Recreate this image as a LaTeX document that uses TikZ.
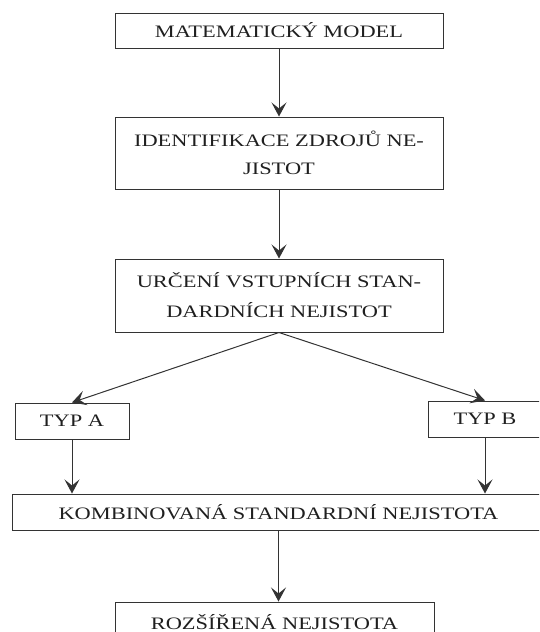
\documentclass[tikz,border=0pt]{standalone}
\usepackage{fontspec}
\setmainfont[FakeStretch=1.28]{Liberation Serif}
\usetikzlibrary{arrows.meta}
\begin{document}
\begin{tikzpicture}[x=1pt,y=-1pt,
  box/.style={draw=black!80, line width=1pt, rectangle, inner sep=0pt, align=center,
    font=\fontsize{17.5}{28}\selectfont, text=black!88},
  arr/.style={draw=black!80, line width=1pt, -{Stealth[length=14pt,width=15pt,inset=6pt]}}]
\useasboundingbox (0,0) rectangle (539,632);
\clip (0,0) rectangle (539,632);
\node[box, minimum width=328pt, minimum height=35pt] (m) at (279,30.5) {MATEMATICKÝ MODEL};
\node[box, minimum width=328pt, minimum height=72pt] (i) at (279,153) {IDENTIFIKACE ZDROJŮ NE-\\JISTOT};
\node[box, minimum width=328pt, minimum height=73pt, font=\fontsize{17.5}{30}\selectfont] (u) at (279,295.5) {URČENÍ VSTUPNÍCH STAN-\\DARDNÍCH NEJISTOT};
\node[box, minimum width=114pt, minimum height=36pt] (a) at (72,421) {TYP A};
\node[box, minimum width=114pt, minimum height=36pt] (b) at (485,419) {TYP B};
\node[box, minimum width=533pt, minimum height=36pt] (k) at (278.5,512) {KOMBINOVANÁ STANDARDNÍ NEJISTOTA};
\node[box, minimum width=319pt, minimum height=40pt] (r) at (274.5,622) {ROZŠÍŘENÁ NEJISTOTA};
\draw[arr] (m) -- (i);
\draw[arr] (i) -- (u);
\draw[arr] (u.south) -- (a.north);
\draw[arr] (u.south) -- (b.north);
\draw[arr] (a) -- (a |- k.north);
\draw[arr] (b) -- (b |- k.north);
\draw[arr] (k.south) -- (k.south |- r.north);
\end{tikzpicture}
\end{document}
